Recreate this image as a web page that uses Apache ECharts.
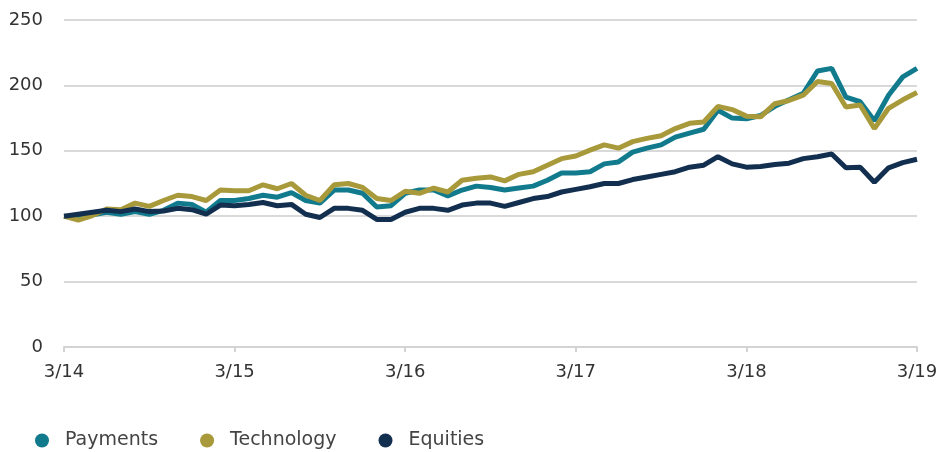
<!DOCTYPE html>
<html>
<head>
<meta charset="utf-8">
<script src="https://cdn.jsdelivr.net/npm/echarts@6/dist/echarts.min.js"></script>
<style>
  html, body { margin: 0; padding: 0; background: #fff; }
  #chart { width: 942px; height: 452px; }
</style>
</head>
<body>
<div id="chart"></div>
<script>
// monthly points, March 2014 to March 2019
var months = [
  '3/14','4/14','5/14','6/14','7/14','8/14','9/14','10/14','11/14','12/14','1/15','2/15',
  '3/15','4/15','5/15','6/15','7/15','8/15','9/15','10/15','11/15','12/15','1/16','2/16',
  '3/16','4/16','5/16','6/16','7/16','8/16','9/16','10/16','11/16','12/16','1/17','2/17',
  '3/17','4/17','5/17','6/17','7/17','8/17','9/17','10/17','11/17','12/17','1/18','2/18',
  '3/18','4/18','5/18','6/18','7/18','8/18','9/18','10/18','11/18','12/18','1/19','2/19',
  '3/19'
];

var payments = [
  100, 99, 101, 103, 101.5, 103.5, 101.5, 104.5, 110, 109, 103, 112,
  112, 113.5, 116, 114.5, 118, 112, 110, 120, 120, 117.5, 107, 108,
  117.5, 120, 120, 115.5, 120, 123, 122, 120, 121.5, 123, 127.5, 133,
  133, 134, 140, 141.5, 149, 152, 154.5, 160.5, 163.5, 166.5, 181, 175,
  174.5, 177, 184, 189, 194, 211, 213, 191, 187.5, 173, 192.5, 206.5,
  213
];

var technology = [
  100, 97, 100.5, 105.5, 105, 110, 107.5, 112, 116, 115, 112, 120,
  119.5, 119.5, 124, 121, 125, 116, 112, 124, 125, 122, 113.5, 112,
  119, 117.5, 121.5, 118.5, 127.5, 129, 130, 127, 132, 134, 139, 144,
  146, 150.5, 154.5, 152, 157, 159.5, 161.5, 167, 171, 172, 184, 181.5,
  176.5, 176, 186, 188.5, 192.5, 203, 201.5, 183.5, 185, 167, 182.5, 189,
  194.5
];

var equities = [
  100, 101.5, 103, 104.5, 103.5, 105.5, 103.5, 104, 106, 105, 101.5, 108.5,
  108, 109, 110.5, 108, 109, 101.5, 99, 106, 106, 104.5, 97.5, 97.5,
  103, 106, 106, 104.5, 108.5, 110, 110, 107.5, 110.5, 113.5, 115, 118.5,
  120.5, 122.5, 125, 125, 128, 130, 132, 134, 137.5, 139, 145.5, 140,
  137.5, 138, 139.5, 140.5, 144, 145.5, 147.5, 137, 137.5, 126, 137, 141,
  143.5
];

var seriesNames = ['Payments', 'Technology', 'Equities'];
var seriesColors = ['#117b8d', '#a8993a', '#132f50'];

var chart = echarts.init(document.getElementById('chart'));

var labelFont = 'DejaVu Sans';

var option = {
    animation: false,
    color: seriesColors,
    grid: {
        left: 64,
        right: 25,
        top: 20,
        bottom: 105
    },
    legend: {
        data: seriesNames,
        icon: 'circle',
        left: 30,
        top: 426,
        itemWidth: 14,
        itemHeight: 14,
        itemGap: 42,
        textStyle: {
            fontFamily: labelFont,
            fontSize: 19,
            color: '#444',
            padding: [0, 0, 0, 11]
        }
    },
    xAxis: {
        type: 'category',
        data: months,
        boundaryGap: false,
        axisLine: {
            lineStyle: { color: '#d3d3d3', width: 2 }
        },
        axisTick: {
            interval: 11,
            length: 5,
            lineStyle: { color: '#d3d3d3', width: 2 }
        },
        axisLabel: {
            interval: 11,
            margin: 16,
            fontFamily: labelFont,
            fontSize: 18,
            color: '#333'
        },
        splitLine: { show: false }
    },
    yAxis: {
        type: 'value',
        min: 0,
        max: 250,
        interval: 50,
        axisLine: { show: false },
        axisTick: { show: false },
        axisLabel: {
            margin: 21,
            fontFamily: labelFont,
            fontSize: 18,
            color: '#333'
        },
        splitLine: {
            lineStyle: { color: '#d9d9d9', width: 2 }
        }
    },
    series: [{
        name: seriesNames[0],
        type: 'line',
        data: payments,
        symbol: 'none',
        lineStyle: { width: 5 }
    }, {
        name: seriesNames[1],
        type: 'line',
        data: technology,
        symbol: 'none',
        lineStyle: { width: 5 }
    }, {
        name: seriesNames[2],
        type: 'line',
        data: equities,
        symbol: 'none',
        lineStyle: { width: 5 }
    }]
};

chart.setOption(option);
</script>
</body>
</html>
